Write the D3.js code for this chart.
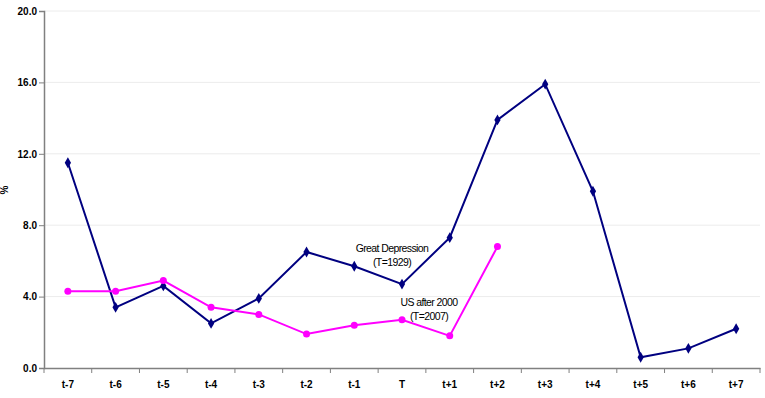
<!DOCTYPE html>
<html>
<head>
<meta charset="utf-8">
<script src="https://cdn.jsdelivr.net/npm/d3@7"></script>
<style>
  body { margin: 0; background: #fff; }
  text { font-family: "Liberation Sans", Arial, sans-serif; }
</style>
</head>
<body>
<div id="chart"></div>
<script>
  // Periods
  var periods = ["t-7", "t-6", "t-5", "t-4", "t-3", "t-2", "t-1", "T", "t+1", "t+2", "t+3", "t+4", "t+5", "t+6", "t+7"]

  // Great Depression (T=1929)
  var greatDepression = [11.5, 3.4, 4.6, 2.5, 3.9, 6.5, 5.7, 4.7, 7.3, 13.9, 15.9, 9.9, 0.6, 1.1, 2.2]

  // US after 2000 (T=2007)
  var usAfter2000 = [4.3, 4.3, 4.9, 3.4, 3.0, 1.9, 2.4, 2.7, 1.8, 6.8]

  var yTicks = [0, 4, 8, 12, 16, 20]

  var width = 765
  var height = 398
  var margin = { top: 11, right: 5, bottom: 30, left: 44 }

  var svg = d3.select("#chart")
    .append("svg")
    .attr("width", width)
    .attr("height", height)

  var x = d3.scaleBand()
    .domain(periods)
    .range([margin.left, width - margin.right])

  var y = d3.scaleLinear()
    .domain([0, 20])
    .range([height - margin.bottom, margin.top])

  // gridlines
  svg.append("g")
    .selectAll("line")
    .data(yTicks.slice(1))
    .enter()
    .append("line")
    .attr("x1", margin.left)
    .attr("x2", width - margin.right)
    .attr("y1", function (d) { return y(d) })
    .attr("y2", function (d) { return y(d) })
    .attr("stroke", "#ececec")
    .attr("stroke-width", 1)

  // y axis
  var yAxis = svg.append("g")
    .attr("transform", "translate(" + margin.left + ",0)")
    .call(d3.axisLeft(y).tickValues(yTicks).tickFormat(d3.format(".1f")).tickSize(5))
  yAxis.select(".domain").attr("stroke", "#808080").attr("stroke-width", 1.5)
  yAxis.selectAll(".tick line").attr("stroke", "#808080")
  yAxis.selectAll("text")
    .attr("x", -7)
    .style("font-size", "10px")
    .style("font-weight", "bold")
    .attr("fill", "#000")

  // x axis
  var xAxis = svg.append("g")
    .attr("transform", "translate(0," + y(0) + ")")
    .call(d3.axisBottom(x).tickSize(0).tickPadding(13))
  xAxis.select(".domain").attr("stroke", "#808080").attr("stroke-width", 1.5)
  xAxis.selectAll("text")
    .style("font-size", "10px")
    .style("font-weight", "bold")
    .attr("fill", "#000")

  // x ticks at category boundaries
  var bounds = periods.map(function (p) { return x(p) }).concat([x.range()[1]])
  xAxis.selectAll(".bnd")
    .data(bounds)
    .enter()
    .append("line")
    .attr("x1", function (d) { return d })
    .attr("x2", function (d) { return d })
    .attr("y1", 0)
    .attr("y2", 5)
    .attr("stroke", "#808080")

  // y label
  svg.append("text")
    .attr("transform", "translate(8,190) rotate(-90)")
    .attr("text-anchor", "middle")
    .style("font-size", "10px")
    .style("font-weight", "bold")
    .text("%")

  var cx = function (d, i) { return x(periods[i]) + x.bandwidth() / 2 }
  var line = d3.line()
    .x(cx)
    .y(function (d) { return y(d) })

  // Great Depression line
  svg.append("path")
    .datum(greatDepression)
    .attr("d", line)
    .attr("fill", "none")
    .attr("stroke", "#000080")
    .attr("stroke-width", 2)

  svg.selectAll(".gd")
    .data(greatDepression)
    .enter()
    .append("path")
    .attr("d", d3.symbol().type(d3.symbolDiamond).size(34))
    .attr("transform", function (d, i) { return "translate(" + cx(d, i) + "," + y(d) + ")" })
    .attr("fill", "#000080")

  // US after 2000 line
  svg.append("path")
    .datum(usAfter2000)
    .attr("d", line)
    .attr("fill", "none")
    .attr("stroke", "#ff00ff")
    .attr("stroke-width", 2)

  svg.selectAll(".us")
    .data(usAfter2000)
    .enter()
    .append("circle")
    .attr("cx", cx)
    .attr("cy", function (d) { return y(d) })
    .attr("r", 3.5)
    .attr("fill", "#ff00ff")

  // annotations
  var notes = [
    { lines: ["Great Depression", "(T=1929)"], at: "T", dx: -10, v: 6.5 },
    { lines: ["US after 2000", "(T=2007)"], at: "T", dx: 27, v: 3.47 }
  ]
  notes.forEach(function (n) {
    var t = svg.append("text")
      .attr("text-anchor", "middle")
      .style("font-size", "10.5px")
      .style("letter-spacing", "-0.6px")
    n.lines.forEach(function (s, k) {
      t.append("tspan")
        .attr("x", x(n.at) + x.bandwidth() / 2 + n.dx)
        .attr("y", y(n.v) + k * 14)
        .text(s)
    })
  })
</script>
</body>
</html>
